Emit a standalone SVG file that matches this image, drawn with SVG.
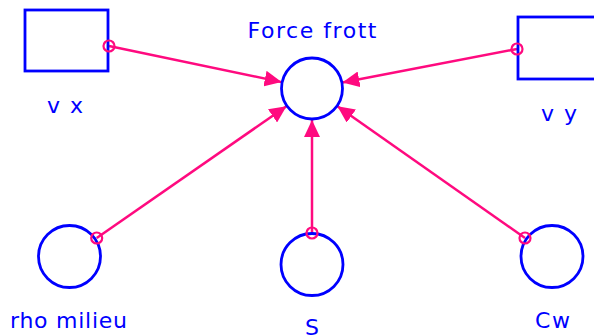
<svg xmlns="http://www.w3.org/2000/svg" width="594" height="335" viewBox="0 0 594 335">
<style>
.node{fill:none;stroke:#0000FF;stroke-width:2.8}
.lbl{fill:#0000FF;font-family:"DejaVu Sans",Verdana,sans-serif;font-size:22px;text-anchor:middle}
.link{stroke:#FF0A7F;stroke-width:2.5;fill:none;marker-end:url(#ah)}
.port{fill:none;stroke:#FF0A7F;stroke-width:2.2}
</style>
<defs>
<marker id="ah" markerUnits="userSpaceOnUse" markerWidth="18" markerHeight="16" refX="17" refY="8" orient="auto">
<path d="M0,0 L17,8 L0,16 z" fill="#FF0A7F"/>
</marker>
</defs>
<g id="connectors">
<line class="link" x1="109" y1="46" x2="281.6" y2="82.1"/>
<line class="link" x1="517" y1="49" x2="342.4" y2="82.6"/>
<line class="link" x1="96.7" y1="238" x2="286.5" y2="106.2"/>
<line class="link" x1="312" y1="233" x2="312" y2="120"/>
<line class="link" x1="525" y1="238" x2="337.4" y2="106.3"/>
</g>
<g id="force-frott">
<circle class="node" cx="312" cy="88.5" r="30.5"/>
<text class="lbl" x="312" y="37.5" textLength="129" lengthAdjust="spacing">Force frott</text>
</g>
<g id="v-x">
<rect class="node" x="25" y="10" width="83" height="61"/>
<circle class="port" cx="109" cy="46" r="5.5"/>
<text class="lbl" x="65" y="113" textLength="36" lengthAdjust="spacing">v x</text>
</g>
<g id="v-y">
<rect class="node" x="518" y="17" width="83" height="62"/>
<circle class="port" cx="517" cy="49" r="5.5"/>
<text class="lbl" x="559" y="121" textLength="36" lengthAdjust="spacing">v y</text>
</g>
<g id="rho-milieu">
<circle class="node" cx="69.5" cy="256.5" r="31"/>
<circle class="port" cx="96.7" cy="238" r="5.5"/>
<text class="lbl" x="68.5" y="328" textLength="117" lengthAdjust="spacing">rho milieu</text>
</g>
<g id="s">
<circle class="node" cx="312" cy="264.5" r="31"/>
<circle class="port" cx="312" cy="233" r="5.5"/>
<text class="lbl" x="312" y="335">S</text>
</g>
<g id="cw">
<circle class="node" cx="552" cy="256.5" r="31"/>
<circle class="port" cx="525" cy="238" r="5.5"/>
<text class="lbl" x="552.5" y="328" textLength="35" lengthAdjust="spacing">Cw</text>
</g>
</svg>
